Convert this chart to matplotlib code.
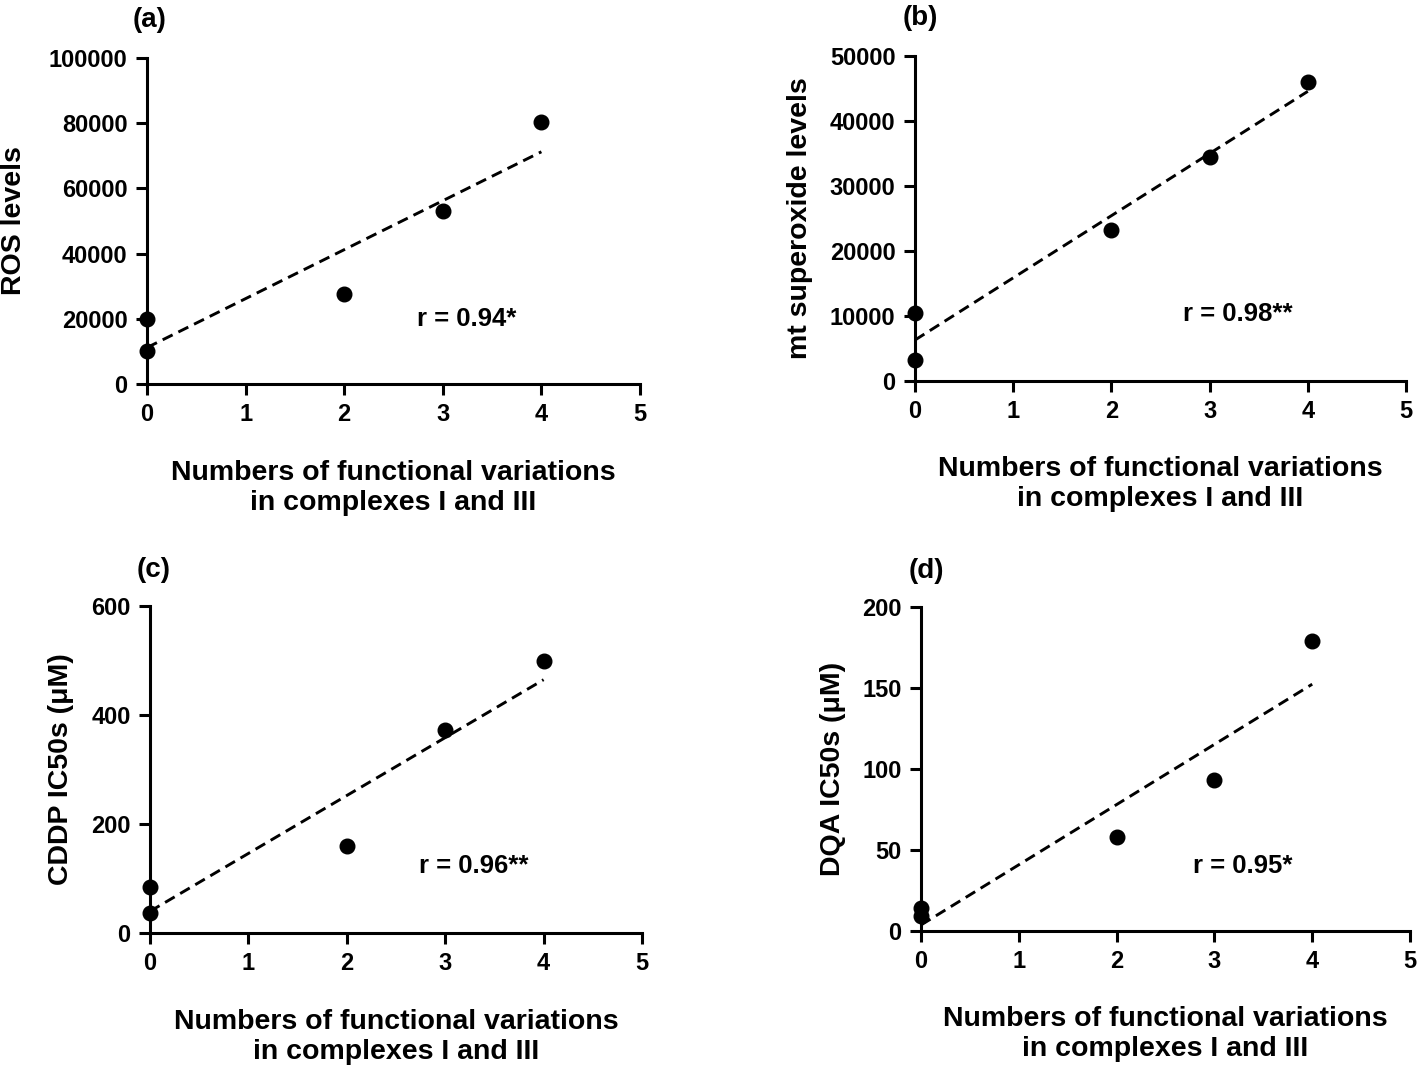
import numpy as np
import matplotlib
matplotlib.use("Agg")
import matplotlib.pyplot as plt

plt.rcParams['font.family'] = ['Liberation Sans', 'DejaVu Sans']
plt.rcParams['font.weight'] = 'bold'

# ---- data ----
variations = [0, 0, 2, 3, 4]
ros_levels = [20000, 10000, 27500, 53000, 80500]
mt_superoxide = [10500, 3300, 23300, 34500, 46000]
cddp_ic50 = [85, 37, 160, 373, 500]
dqa_ic50 = [14, 9, 58, 93, 179]

panel_letters = ['(a)', '(b)', '(c)', '(d)']
y_labels = ['ROS levels', 'mt superoxide levels', 'CDDP IC50s (μM)', 'DQA IC50s (μM)']
r_texts = ['r = 0.94*', 'r = 0.98**', 'r = 0.96**', 'r = 0.95*']
x_ticks = [0, 1, 2, 3, 4, 5]
y_ticks_list = [
    [0, 20000, 40000, 60000, 80000, 100000],
    [0, 10000, 20000, 30000, 40000, 50000],
    [0, 200, 400, 600],
    [0, 50, 100, 150, 200],
]
x_label = 'Numbers of functional variations\nin complexes I and III'

series = [ros_levels, mt_superoxide, cddp_ic50, dqa_ic50]
r_pos = [(3.245, 20000), (3.29, 10300), (3.29, 123), (3.29, 40)]

W, H = 1418, 1073
fig = plt.figure(figsize=(W / 100, H / 100), dpi=100)

# axes boxes in pixels: left, right(x=5), top(ymax), bottom(y=0)
boxes = [(147, 640, 58, 384), (915, 1406, 56, 381), (150, 642, 606, 933), (921, 1410, 607, 931)]
ylabel_x = [-0.269, -0.234, -0.18, -0.179]
letter_pos = [(150, 20), (920, 18), (154, 570), (926, 571)]

for i in range(4):
    l, r, t, b = boxes[i]
    ax = fig.add_axes([l / W, 1 - b / H, (r - l) / W, (b - t) / H])
    y = np.array(series[i], dtype=float)
    x = np.array(variations, dtype=float)
    ax.plot(x, y, 'o', color='black', markersize=10.5, clip_on=False, zorder=5)
    k, c0 = np.polyfit(x, y, 1)
    xs = np.array([x.min(), x.max()])
    ax.plot(xs, k * xs + c0, color='black', lw=2.1, linestyle=(0, (3.8, 2.2)), clip_on=False)
    yt = y_ticks_list[i]
    ax.set_xlim(0, 5)
    ax.set_ylim(yt[0], yt[-1])
    ax.set_xticks(x_ticks)
    ax.set_yticks(yt)
    ax.set_xticklabels([str(v) for v in x_ticks])
    ax.set_yticklabels([str(v) for v in yt])
    for s in ['top', 'right']:
        ax.spines[s].set_visible(False)
    for s in ['left', 'bottom']:
        ax.spines[s].set_linewidth(2.2)
    ax.tick_params(direction='out', length=8, width=2.2, labelsize=17, pad=6)
    for lab in ax.get_xticklabels() + ax.get_yticklabels():
        lab.set_fontweight('bold')
    ax.set_ylabel(y_labels[i], fontsize=20.5, fontweight='bold', va='center')
    ax.yaxis.set_label_coords(ylabel_x[i], 0.5)
    ax.set_xlabel(x_label, fontsize=20.5, fontweight='bold', va='top', linespacing=1.2)
    ax.xaxis.set_label_coords(0.5, -0.232)
    ax.text(r_pos[i][0], r_pos[i][1], r_texts[i], fontsize=18.5, fontweight='bold',
            ha='center', va='center')
    fig.text(letter_pos[i][0] / W, 1 - letter_pos[i][1] / H, panel_letters[i],
             fontsize=20, fontweight='bold', ha='center', va='center')

fig.savefig('out.png', dpi=100)
